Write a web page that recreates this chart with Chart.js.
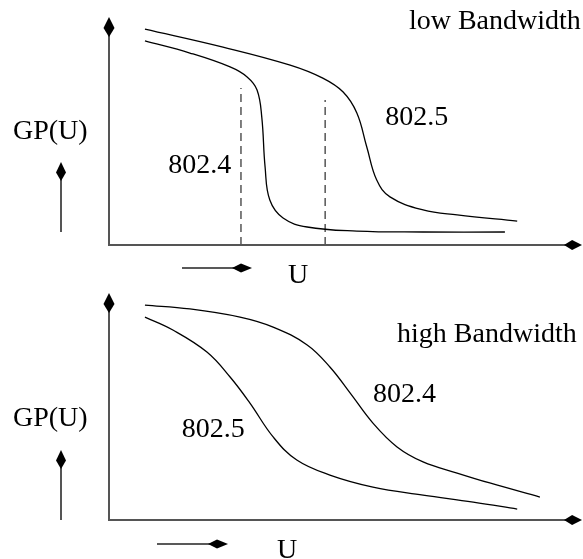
<!DOCTYPE html>
<html>
<head>
<meta charset="utf-8">
<script src="https://cdn.jsdelivr.net/npm/chart.js@4.4.1/dist/chart.umd.min.js"></script>
<style>
html,body{margin:0;padding:0;background:#fff;width:583px;height:559px;overflow:hidden;}
.panel{position:absolute;left:0;width:583px;}
</style>
</head>
<body>
<div class="panel" style="top:0;height:300px"><canvas id="c1" width="583" height="300"></canvas></div>
<div class="panel" style="top:279px;height:280px"><canvas id="c2" width="583" height="280"></canvas></div>
<script>
// ---- Data (schematic units 0..100 on both axes) ----
// Low bandwidth panel
const lowX_8025 = [7.6, 24.1, 38.3, 45.2, 49.5, 52.4, 54.5, 56.6, 59.4, 66.4, 73.6, 86.3];
const lowY_8025 = [94.7, 86.8, 78.9, 73.2, 67.1, 57.9, 43.0, 28.5, 21.1, 15.4, 13.2, 10.5];
const lowX_8024 = [7.6, 17.1, 25.6, 29.2, 31.3, 32.3, 33.0, 34.0, 36.8, 41.9, 52.4, 66.4, 83.7];
const lowY_8024 = [89.5, 84.2, 78.1, 73.7, 68.0, 56.1, 34.2, 19.7, 11.8, 7.9, 6.1, 5.7, 5.7];
const lowDashX = [27.9, 45.7];
const lowDashTop = [68.9, 63.6];
// High bandwidth panel
const highX_8024 = [7.6, 17.1, 27.7, 34.7, 41.9, 46.7, 51.0, 55.8, 60.9, 66.4, 73.6, 80.5, 91.1];
const highY_8024 = [94.7, 93.0, 89.4, 85.0, 77.1, 67.4, 55.9, 42.7, 32.2, 25.6, 20.7, 16.3, 10.1];
const highX_8025 = [7.6, 13.5, 20.7, 25.6, 29.8, 34.7, 39.7, 46.7, 55.8, 66.4, 77.0, 86.3];
const highY_8025 = [89.4, 83.7, 74.0, 63.0, 51.5, 36.6, 26.4, 19.8, 14.5, 11.0, 7.9, 4.8];
// Labels: [text, x, y]
const lowLabels = [["802.5", 58.4, 52.6], ["802.4", 12.5, 31.6], ["low Bandwidth", 63.4, 94.7]];
const highLabels = [["802.4", 55.8, 52.0], ["802.5", 15.4, 36.6], ["high Bandwidth", 60.9, 78.4]];
const yAxisTitle = "GP(U)";
const xAxisTitle = "U";

const FONT = '28px "Liberation Serif", "Times New Roman", serif';
const AXIS_COLOR = '#555';

function pts(xs, ys){ return xs.map((x,i)=>({x:x, y:ys[i]})); }

function kite(ctx, tx, ty, dx, dy, len, half){
  const px = -dy, py = dx;
  ctx.beginPath();
  ctx.moveTo(tx, ty);
  ctx.lineTo(tx - dx*len*0.55 + px*half, ty - dy*len*0.55 + py*half);
  ctx.lineTo(tx - dx*len, ty - dy*len);
  ctx.lineTo(tx - dx*len*0.55 - px*half, ty - dy*len*0.55 - py*half);
  ctx.closePath();
  ctx.fill();
}

function makeDecor(labels, cfg){
  return {
    id: 'decor',
    afterDatasetsDraw(chart){
      const ctx = chart.ctx, a = chart.chartArea;
      const xs = chart.scales.x, ys = chart.scales.y;
      ctx.save();
      ctx.strokeStyle = AXIS_COLOR; ctx.lineWidth = 2;
      ctx.beginPath();
      ctx.moveTo(a.left, a.top + 12); ctx.lineTo(a.left, a.bottom);
      ctx.lineTo(a.right - 10, a.bottom);
      ctx.stroke();
      ctx.fillStyle = '#000';
      kite(ctx, a.left, a.top, 0, -1, 20, 5.5);
      kite(ctx, a.right, a.bottom, 1, 0, 18, 5);
      ctx.font = FONT; ctx.fillStyle = '#000';
      ctx.textAlign = 'left'; ctx.textBaseline = 'alphabetic';
      labels.forEach(l => ctx.fillText(l[0], xs.getPixelForValue(l[1]), ys.getPixelForValue(l[2])));
      ctx.fillText(yAxisTitle, cfg.gpX, cfg.gpBase);
      ctx.strokeStyle = AXIS_COLOR; ctx.lineWidth = 2;
      ctx.beginPath(); ctx.moveTo(61, cfg.gaBottom); ctx.lineTo(61, cfg.gaTip + 10); ctx.stroke();
      ctx.fillStyle = '#000';
      kite(ctx, 61, cfg.gaTip, 0, -1, 19, 5);
      ctx.fillText(xAxisTitle, cfg.uX, cfg.uBase);
      ctx.strokeStyle = '#222'; ctx.lineWidth = 1.3;
      ctx.beginPath(); ctx.moveTo(cfg.uaStart, cfg.uaY); ctx.lineTo(cfg.uaTip - 10, cfg.uaY); ctx.stroke();
      kite(ctx, cfg.uaTip, cfg.uaY, 1, 0, 20, 4.5);
      ctx.restore();
    }
  };
}

function curve(data){
  return { data: data, borderColor:'#000', borderWidth:1.3, pointRadius:0, fill:false,
           tension:0.4, showLine:true };
}
function dash(x, top){
  return { data:[{x:x,y:0},{x:x,y:top}], borderColor:'#555', borderWidth:1.5, borderDash:[8,5],
           pointRadius:0, fill:false, showLine:true, tension:0 };
}

function baseOptions(padTop, padBottom){
  return {
    responsive:false, animation:false, devicePixelRatio: window.devicePixelRatio || 1,
    layout:{padding:{left:109, right:1, top:padTop, bottom:padBottom}},
    plugins:{legend:{display:false}, tooltip:{enabled:false}, title:{display:false}},
    scales:{
      x:{type:'linear', min:0, max:100, display:false},
      y:{type:'linear', min:0, max:100, display:false}
    }
  };
}

const lowDatasets = [curve(pts(lowX_8025, lowY_8025)), curve(pts(lowX_8024, lowY_8024))];
lowDashX.forEach((x,i)=>lowDatasets.push(dash(x, lowDashTop[i])));

new Chart(document.getElementById('c1'), {
  type:'scatter',
  data:{datasets: lowDatasets},
  options: baseOptions(17, 300-245),
  plugins:[makeDecor(lowLabels, {gpX:13, gpBase:139, gaTip:162, gaBottom:232,
                                  uX:288, uBase:283, uaStart:182, uaTip:252, uaY:268})]
});

new Chart(document.getElementById('c2'), {
  type:'scatter',
  data:{datasets:[curve(pts(highX_8024, highY_8024)), curve(pts(highX_8025, highY_8025))]},
  options: baseOptions(14, 280-241),
  plugins:[makeDecor(highLabels, {gpX:13, gpBase:426-279, gaTip:450-279, gaBottom:241,
                                   uX:277, uBase:279, uaStart:157, uaTip:228, uaY:544-279})]
});
</script>
</body>
</html>
